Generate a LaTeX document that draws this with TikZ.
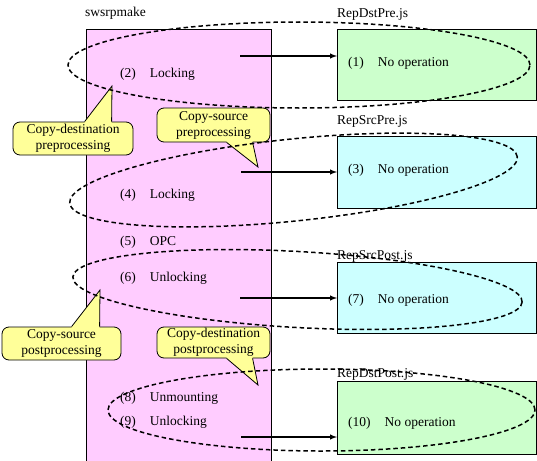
\documentclass[tikz,border=0pt]{standalone}
\usepackage{fontspec}
\setmainfont{Liberation Serif}
\usetikzlibrary{arrows, calc, positioning}
\definecolor{cmdPink}{HTML}{FFCCFF}
\definecolor{scrGreen}{HTML}{CCFFCC}
\definecolor{scrCyan}{HTML}{CCFFFF}
\definecolor{noteYellow}{HTML}{FFFF99}
\tikzset{
    cmdLane/.style={fill=cmdPink, draw, line width=0.8pt, anchor=north west, minimum width=185pt, minimum height=434pt, inner sep=0pt},
    scrBox/.style={draw, line width=0.8pt, anchor=north west, minimum width=199pt, inner sep=0pt},
    stepText/.style={anchor=base west, inner sep=0pt, font=\fontsize{13.5}{16}\selectfont},
    callNote/.style={draw, line width=0.8pt, fill=noteYellow, rounded corners=7pt, align=center, inner sep=0pt, font=\fontsize{13.5}{16}\selectfont},
    callArrow/.style={->, >=latex, line width=1.4pt},
    scopeRing/.style={line width=1.5pt, dash pattern=on 4.5pt off 3pt},
}
\newcommand{\stepLine}[4]{
    \node[stepText] (#1) at (#2) {(#3)\hspace{14pt}#4};
}
\newcommand{\drawNote}[4]{
    % pointer: fill over the border first, then the two sides
    \fill[noteYellow] ($(#1)+(0,#4)$) -- (#1) -- (#3) -- (#2) -- ($(#2)+(0,#4)$) -- cycle;
    \draw[line width=0.8pt] (#1) -- (#3) -- (#2);
}

\begin{document}
\begin{tikzpicture}[x=1pt, y=-1pt]
    \useasboundingbox (0,0) rectangle (537,460);

    % command lane
    \node[cmdLane] (lane) at (86,29) {};
    \node[stepText] (laneTitle) at (85,17) {swsrpmake};

    \stepLine{lock2}{120,77}{2}{Locking}
    \stepLine{lock4}{120,198}{4}{Locking}
    \stepLine{opc5}{120,245}{5}{OPC}
    \stepLine{unlock6}{120,281}{6}{Unlocking}
    \stepLine{unmount8}{120,401}{8}{Unmounting}
    \stepLine{unlock9}{120,425}{9}{Unlocking}

    % script boxes
    \node[scrBox, fill=scrGreen, minimum height=71pt] (dstPre) at (337,29) {};
    \node[scrBox, fill=scrCyan, minimum height=72pt] (srcPre) at (337,136) {};
    \node[scrBox, fill=scrCyan, minimum height=71pt] (srcPost) at (337,262) {};
    \node[scrBox, fill=scrGreen, minimum height=73pt] (dstPost) at (337,381) {};

    \node[stepText] (dstPreName) at (337,18) {RepDstPre.js};
    \node[stepText] (srcPreName) at (337,124) {RepSrcPre.js};
    \node[stepText] (srcPostName) at (337,259) {RepSrcPost.js};
    \node[stepText] (dstPostName) at (337,377) {RepDstPost.js};

    \stepLine{noop1}{348,66}{1}{No operation}
    \stepLine{noop3}{348,173}{3}{No operation}
    \stepLine{noop7}{348,303}{7}{No operation}
    \stepLine{noop10}{348,426}{10}{No operation}

    % calls
    \coordinate (call1) at (240,56);
    \coordinate (call3) at (241,172);
    \coordinate (call7) at (240,298);
    \coordinate (call10) at (241,437);
    \draw[callArrow] (call1) -- (call1 -| dstPre.west);
    \draw[callArrow] (call3) -- (call3 -| srcPre.west);
    \draw[callArrow] (call7) -- (call7 -| srcPost.west);
    \draw[callArrow] (call10) -- (call10 -| dstPost.west);

    % balloons
    \node[callNote, minimum width=120pt, minimum height=33pt] (noteDstPre) at (73,138.5) {Copy-destination\\preprocessing};
    \node[callNote, minimum width=113pt, minimum height=34pt] (noteSrcPre) at (213.5,125) {Copy-source\\preprocessing};
    \node[callNote, minimum width=119pt, minimum height=33pt] (noteSrcPost) at (61.5,343.5) {Copy-source\\postprocessing};
    \node[callNote, minimum width=113pt, minimum height=31pt] (noteDstPost) at (213.5,342.5) {Copy-destination\\postprocessing};

    \coordinate (tipDstPre) at (112,86);
    \coordinate (tipSrcPre) at (258,167);
    \coordinate (tipSrcPost) at (100,290);
    \coordinate (tipDstPost) at (258,385);
    \drawNote{$(noteDstPre.north west)+(72,0)$}{$(noteDstPre.north west)+(99,0)$}{tipDstPre}{1.5}
    \drawNote{$(noteSrcPre.south west)+(70,0)$}{$(noteSrcPre.south west)+(96,0)$}{tipSrcPre}{-1.5}
    \drawNote{$(noteSrcPost.north west)+(70,0)$}{$(noteSrcPost.north west)+(98,0)$}{tipSrcPost}{1.5}
    \drawNote{$(noteDstPost.south west)+(70,0)$}{$(noteDstPost.south west)+(96,0)$}{tipDstPost}{-1.5}

    % processing scopes
    \draw[scopeRing] (299,65) ellipse [x radius=231pt, y radius=43pt];
    \draw[scopeRing, rotate around={5.9:(293.5,180)}] (293.5,180) ellipse [x radius=225pt, y radius=41pt];
    \draw[scopeRing, rotate around={-3.2:(297.5,289.5)}] (297.5,289.5) ellipse [x radius=225pt, y radius=38pt];
    \draw[scopeRing] (321.5,410) ellipse [x radius=213.5pt, y radius=41pt];

\end{tikzpicture}
\end{document}
